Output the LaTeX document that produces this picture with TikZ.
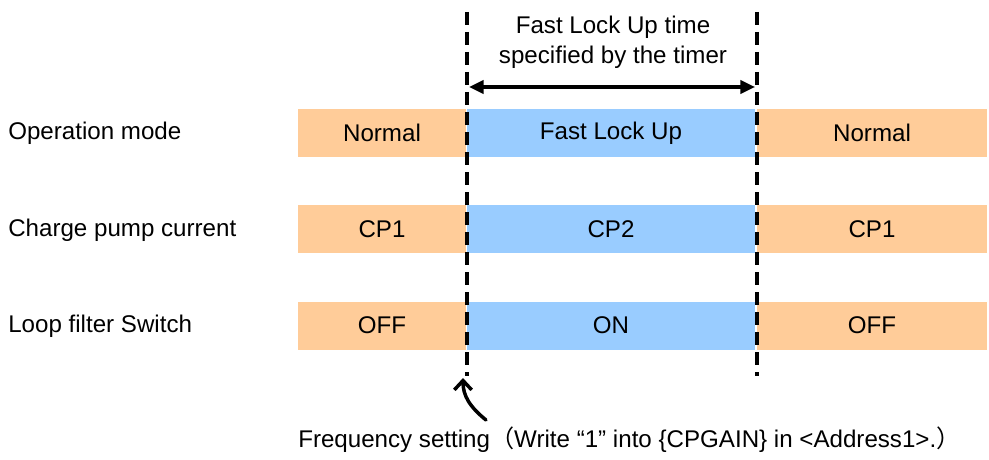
\documentclass[tikz,border=0pt]{standalone}
\usepackage{fontspec}
\setmainfont{Liberation Sans}
\newfontfamily\cjk{Noto Sans CJK JP}
\usetikzlibrary{arrows.meta}
\definecolor{orng}{HTML}{FFCC99}
\definecolor{blu}{HTML}{99CCFF}
\tikzset{
  bar/.style={inner sep=0pt, outer sep=0pt, minimum height=36pt, font=\fontsize{18.1}{20}\selectfont, anchor=west},
  obar/.style={bar, fill=orng},
  bbar/.style={bar, fill=blu},
  lbl/.style={anchor=west, inner sep=0pt, font=\fontsize{18.1}{20}\selectfont},
  vdash/.style={line width=3pt, dash pattern=on 10pt off 5pt},
}
\begin{document}
\begin{tikzpicture}[x=0.75pt,y=-0.75pt]
\useasboundingbox (0,0) rectangle (989,460);
% row labels
\node[lbl] (l1) at (8,133) {Operation mode};
\node[lbl] (l2) at (8,230) {Charge pump current};
\node[lbl] (l3) at (8,326) {Loop filter Switch};
% bars
\node[obar, minimum width=126pt] (a1) at (298,133) {Normal};
\node[bbar, minimum width=216pt] (b1) at (467,133) {Fast Lock Up};
\node[obar, minimum width=172.5pt] (c1) at (757,133) {Normal};
\node[obar, minimum width=126pt] (a2) at (298,229) {CP1};
\node[bbar, minimum width=216pt] (b2) at (467,229) {CP2};
\node[obar, minimum width=172.5pt] (c2) at (757,229) {CP1};
\node[obar, minimum width=126pt] (a3) at (298,325.5) {OFF};
\node[bbar, minimum width=216pt] (b3) at (467,325.5) {ON};
\node[obar, minimum width=172.5pt] (c3) at (757,325.5) {OFF};
% dashed lines
\coordinate (t1) at (467,12);
\coordinate (u1) at (467,376);
\coordinate (t2) at (757,12);
\coordinate (u2) at (757,376);
\draw[vdash] (t1) -- (u1);
\draw[vdash] (t2) -- (u2);
% time arrow
\coordinate (p1) at (469,87);
\coordinate (p2) at (755,87);
\draw[line width=2.3pt, {Triangle[length=11pt,width=10pt]}-{Triangle[length=11pt,width=10pt]}] (p1) -- (p2);
\node[font=\fontsize{18.1}{22.5}\selectfont, align=center] (tt) at (613,42) {Fast Lock Up time\\specified by the timer};
% bottom note
\coordinate (cs) at (486,420);
\coordinate (ce) at (463,378);
\draw[line width=2.6pt, line cap=round, -{Straight Barb[length=7pt,width=13pt]}] (cs) .. controls (470,407) and (463,396) .. (ce);
\node[lbl] (note) at (298,440) {Frequency setting{\cjk （}Write “1” into \{CPGAIN\} in <Address1>.{\cjk ）}};
\end{tikzpicture}
\end{document}
